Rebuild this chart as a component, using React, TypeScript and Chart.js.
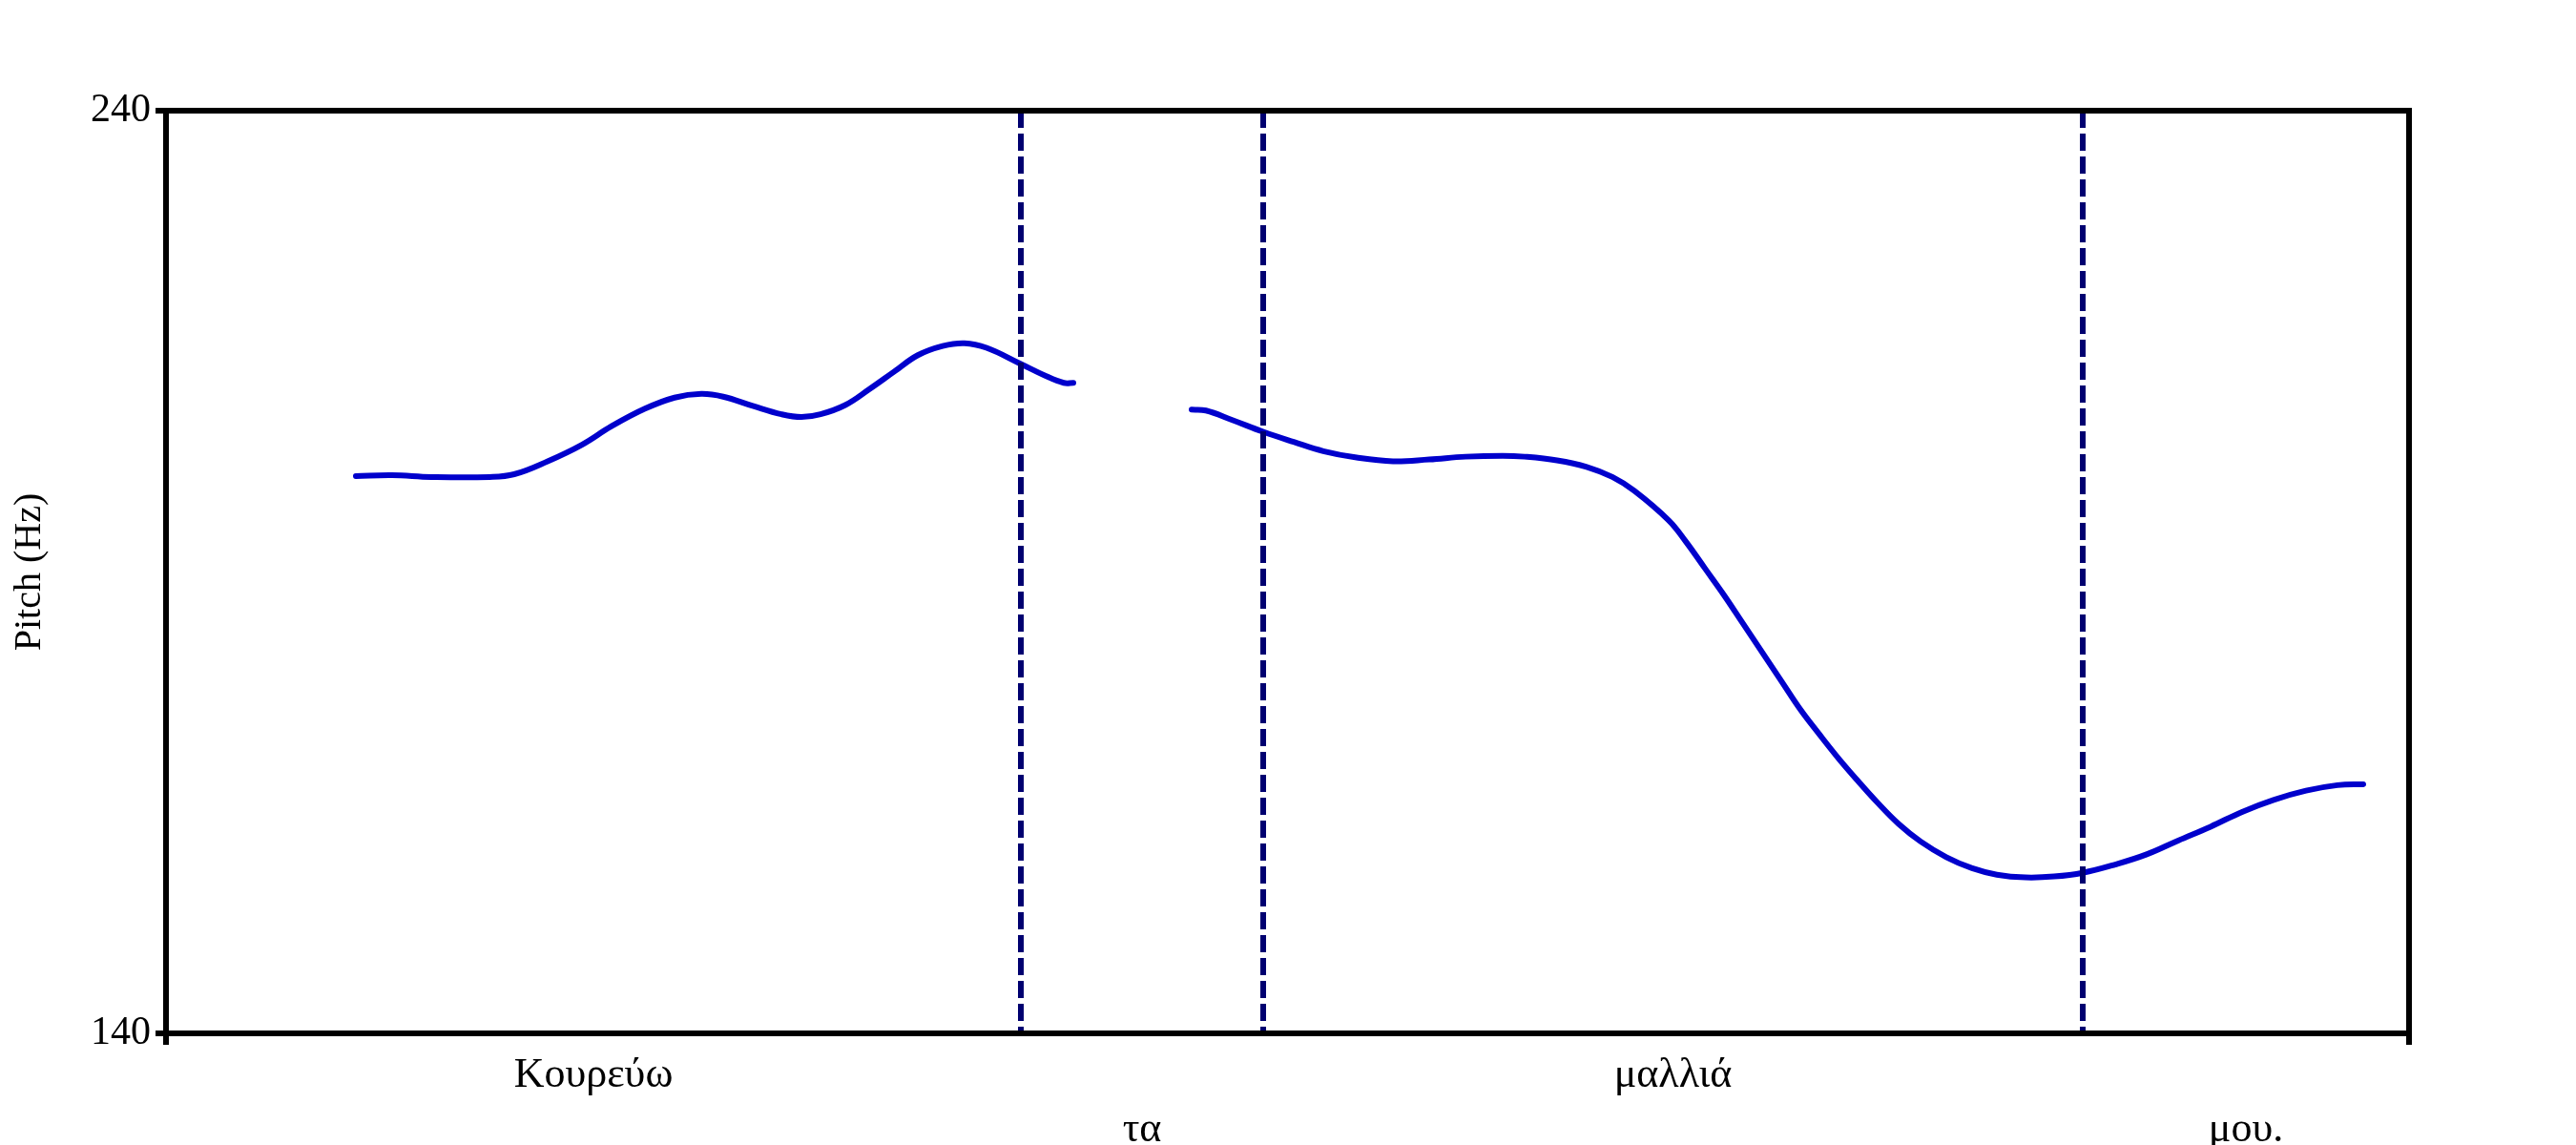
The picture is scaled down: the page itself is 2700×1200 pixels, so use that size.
import React, { useEffect, useRef } from "react";
import { Chart, registerables } from "chart.js";

Chart.register(...registerables);

// Time axis (seconds) and pitch axis (Hz)
const timeMin = 0;
const timeMax = 2.351;
const pitchMin = 140;
const pitchMax = 240;
const pitchTicks = [140, 240];

// Word boundaries (s)
const boundaries = [0.896, 1.150, 2.009];
const words = ["Κουρεύω", "τα", "μαλλιά", "μου."];
const wordRows = [0, 1, 0, 1];

// Pitch contour, first voiced stretch
const times1 = [0.199, 0.237, 0.278, 0.339, 0.365, 0.400, 0.436, 0.467, 0.502, 0.533, 0.561, 0.584, 0.615, 0.645, 0.666, 0.686, 0.712, 0.737, 0.763, 0.788, 0.814, 0.837, 0.860, 0.895, 0.921, 0.941, 0.951];
const pitch1 = [200.4, 200.5, 200.3, 200.3, 200.6, 202.0, 203.8, 205.8, 207.7, 208.9, 209.3, 209.0, 208.0, 207.1, 206.8, 207.1, 208.1, 209.8, 211.7, 213.5, 214.5, 214.8, 214.3, 212.6, 211.3, 210.5, 210.5];

// Pitch contour, second voiced stretch
const times2 = [1.075, 1.090, 1.117, 1.150, 1.182, 1.213, 1.248, 1.286, 1.324, 1.362, 1.401, 1.424, 1.458, 1.489, 1.516, 1.539, 1.575, 1.593, 1.613, 1.633, 1.653, 1.673, 1.693, 1.713, 1.733, 1.753, 1.773, 1.793, 1.816, 1.839, 1.866, 1.893, 1.919, 1.949, 1.979, 2.009, 2.043, 2.076, 2.109, 2.143, 2.176, 2.209, 2.243, 2.276, 2.303];
const pitch2 = [207.6, 207.5, 206.5, 205.2, 204.1, 203.1, 202.4, 202.0, 202.2, 202.5, 202.6, 202.5, 202.1, 201.4, 200.3, 198.8, 195.6, 193.3, 190.4, 187.5, 184.4, 181.3, 178.2, 175.1, 172.4, 169.8, 167.4, 165.1, 162.7, 160.8, 159.1, 157.9, 157.2, 156.9, 157.0, 157.4, 158.3, 159.4, 160.9, 162.4, 164.0, 165.3, 166.3, 166.9, 167.0];

const SERIF = "'Liberation Serif', 'Times New Roman', serif";

export default function App() {
  const ref = useRef<HTMLCanvasElement | null>(null);

  useEffect(() => {
    if (!ref.current) return;
    const edges = [timeMin, ...boundaries, timeMax];
    const centers = words.map((_, i) => (edges[i] + edges[i + 1]) / 2);
    const xTickValues = [timeMin, ...centers, timeMax];

    const frame = {
      id: "frame",
      afterDatasetsDraw(chart: any) {
        const { ctx, chartArea } = chart;
        ctx.save();
        ctx.strokeStyle = "#000";
        ctx.lineWidth = 6;
        ctx.strokeRect(chartArea.left, chartArea.top, chartArea.right - chartArea.left, chartArea.bottom - chartArea.top);
        ctx.restore();
      },
    };

    const boundarySets = boundaries.map((b) => ({
      type: "line" as const,
      data: [
        { x: b, y: pitchMax },
        { x: b, y: pitchMin },
      ],
      borderColor: "#000070",
      borderWidth: 6,
      borderDash: [18, 6],
      pointRadius: 0,
      fill: false,
    }));

    const contour = (ts: number[], ps: number[]) => ({
      type: "line" as const,
      data: ts.map((t, i) => ({ x: t, y: ps[i] })),
      borderColor: "#0000cc",
      borderWidth: 6,
      pointRadius: 0,
      tension: 0.4,
      fill: false,
      borderCapStyle: "round" as const,
      borderJoinStyle: "round" as const,
    });

    const chart = new Chart(ref.current, {
      type: "line",
      data: {
        datasets: [...boundarySets, contour(times1, pitch1), contour(times2, pitch2)] as any,
      },
      options: {
        animation: false,
        responsive: false,
        devicePixelRatio: 1,
        layout: { padding: { left: 0, top: 116, right: 175, bottom: 0 } },
        plugins: { legend: { display: false }, tooltip: { enabled: false } },
        scales: {
          x: {
            type: "linear",
            min: timeMin,
            max: timeMax,
            afterBuildTicks: (scale: any) => {
              scale.ticks = xTickValues.map((v) => ({ value: v }));
            },
            afterFit: (scale: any) => {
              scale.height = 117;
            },
            border: { display: false },
            grid: {
              drawOnChartArea: false,
              drawTicks: true,
              tickLength: 12,
              lineWidth: 6,
              color: (ctx: any) =>
                ctx.tick && (ctx.tick.value === timeMin || ctx.tick.value === timeMax) ? "#000" : "rgba(0,0,0,0)",
            },
            ticks: {
              autoSkip: false,
              maxRotation: 0,
              minRotation: 0,
              padding: 4,
              color: "#000",
              font: { family: SERIF, size: 44, lineHeight: 1.3 },
              callback: (_v: any, i: number) => {
                if (i === 0 || i === xTickValues.length - 1) return "";
                const w = i - 1;
                return wordRows[w] === 0 ? words[w] : ["", words[w]];
              },
            },
          },
          y: {
            type: "linear",
            min: pitchMin,
            max: pitchMax,
            afterBuildTicks: (scale: any) => {
              scale.ticks = pitchTicks.map((v) => ({ value: v }));
            },
            afterFit: (scale: any) => {
              scale.width = 174;
            },
            border: { display: false },
            grid: {
              drawOnChartArea: false,
              drawTicks: true,
              tickLength: 11,
              lineWidth: 6,
              color: "#000",
            },
            ticks: {
              padding: 5,
              color: "#000",
              font: { family: SERIF, size: 42 },
              callback: (v: any) => String(v),
            },
            title: {
              display: true,
              text: "Pitch (Hz)",
              color: "#000",
              font: { family: SERIF, size: 40 },
              padding: { top: 7, bottom: 0 },
            },
          },
        },
      },
      plugins: [frame],
    });
    return () => chart.destroy();
  }, []);

  return (
    <div style={{ position: "absolute", left: 0, top: 0, width: 2700, height: 1200, background: "#fff" }}>
      <canvas ref={ref} width={2700} height={1200} style={{ display: "block" }} />
    </div>
  );
}
